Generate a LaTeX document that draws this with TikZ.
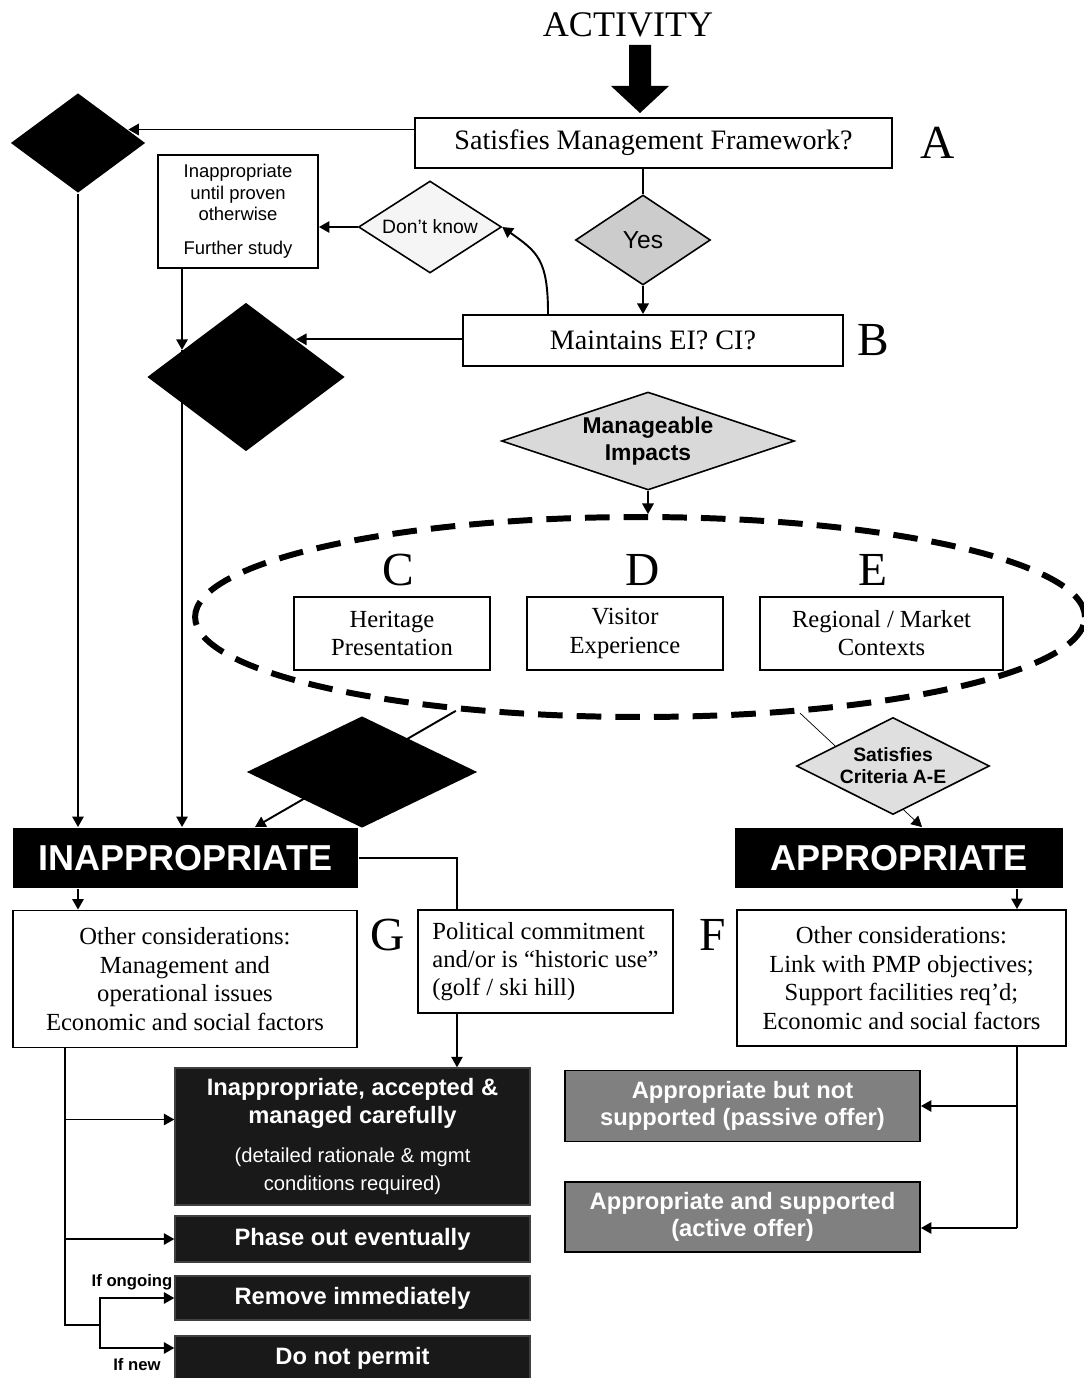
\documentclass[tikz,border=0pt]{standalone}
\usepackage{fontspec}
\setmainfont{Liberation Serif}
\setsansfont{Liberation Sans}
\usepackage{tikz}
\usetikzlibrary{shapes,arrows.meta,positioning,calc,backgrounds}
\newcommand{\detailfont}{\mdseries\fontsize{11.5pt}{13.6pt}\selectfont}

\begin{document}
\begin{tikzpicture}[
  x=0.02cm, y=-0.02cm,
  line width=1.1pt,
  ptr/.style={-{Triangle[length=6pt,width=6.5pt]}},
  qbox/.style={draw, rectangle, fill=white, align=center, inner sep=0pt, font=\fontsize{16pt}{19pt}\selectfont},
  crit/.style={draw, rectangle, align=center, inner sep=0pt, minimum width=3.92cm, minimum height=1.46cm, font=\fontsize{14pt}{16pt}\selectfont},
  letter/.style={font=\fontsize{27pt}{30pt}\selectfont},
  choice/.style={draw, diamond, inner sep=0pt, line width=0.9pt, align=center, font=\sffamily\fontsize{11pt}{12.5pt}\selectfont},
  blackdia/.style={diamond, fill=black, inner sep=0pt},
  verdict/.style={rectangle, fill=black, text=white, inner sep=0pt, minimum height=1.2cm, font=\sffamily\bfseries\fontsize{20.5pt}{24pt}\selectfont},
  note/.style={draw, rectangle, fill=white, align=center, inner sep=0pt, minimum height=2.74cm, font=\fontsize{14pt}{16.4pt}\selectfont},
  action/.style={draw=black!75, line width=0.8pt, rectangle, fill=black!90, text=white, align=center, inner sep=0pt, minimum width=7.1cm, font=\sffamily\bfseries\fontsize{13.5pt}{16pt}\selectfont},
  offer/.style={draw, rectangle, fill=black!50, text=white, align=center, inner sep=0pt, minimum width=7.1cm, minimum height=1.42cm, font=\sffamily\bfseries\fontsize{13.5pt}{15.3pt}\selectfont},
  branch/.style={font=\sffamily\bfseries\fontsize{9.5pt}{11pt}\selectfont}
]
\useasboundingbox (0,0) rectangle (1083,1378);
\node[font=\fontsize{20.5pt}{24pt}\selectfont] (act) at (628,25) {ACTIVITY};
\fill (629,45) -- (651,45) -- (651,86) -- (669,86) -- (640,113) -- (611,86) -- (629,86) -- cycle;
\node[qbox, minimum width=9.54cm, minimum height=1cm] (frame) at (653.5,143) {Satisfies Management Framework?};
\node[letter] (la) at (938,143) {A};
\node[choice, fill=gray!40, aspect=1.5, minimum width=2.7cm, minimum height=1.8cm, font=\sffamily\fontsize{14pt}{16pt}\selectfont] (yes) at (643,240) {Yes};
\node[qbox, minimum width=7.6cm, minimum height=1.02cm] (eici) at (653,340.5) {Maintains EI? CI?};
\node[letter] (lb) at (873,340) {B};
\node[choice, fill=gray!8, aspect=1.55, minimum width=2.86cm, minimum height=1.84cm] (unsure) at (430,227) {Don't know};
\node[draw, rectangle, align=center, minimum width=3.2cm, minimum height=2.26cm, inner sep=0pt, font=\sffamily\fontsize{10.5pt}{12.2pt}\selectfont] (study) at (238,211.5) {Inappropriate\\until proven\\otherwise\\[7pt]Further study};
\node[blackdia, minimum width=2.7cm, minimum height=2cm] (no1) at (78,143) {};
\node[blackdia, minimum width=3.96cm, minimum height=2.98cm] (no2) at (246,377) {};
\node[choice, fill=gray!30, aspect=3, minimum width=5.86cm, minimum height=1.96cm, font=\sffamily\bfseries\fontsize{13pt}{15pt}\selectfont] (manage) at (648,441) {Manageable\\Impacts};
\node[ellipse, draw, dash pattern=on 14pt off 8pt, line width=3.4pt, minimum width=17.8cm, minimum height=4cm] (ring) at (640,617) {};
\node[letter] (lc) at (398,570) {C};
\node[letter] (ld) at (643,570) {D};
\node[letter] (le) at (873,570) {E};
\node[crit] (herit) at (392,633.5) {Heritage\\Presentation};
\node[crit] (visit) at (625,633.5) {Visitor\\Experience};
\node[crit, minimum width=4.86cm] (region) at (881.5,633.5) {Regional / Market\\Contexts};
\node[blackdia, minimum width=4.62cm, minimum height=2.24cm] (no3) at (362,772) {};
\node[choice, fill=gray!25, aspect=2, minimum width=3.86cm, minimum height=1.94cm, font=\sffamily\bfseries\fontsize{11pt}{12.5pt}\selectfont] (meets) at (893,766) {Satisfies\\Criteria A-E};
\node[verdict, minimum width=6.9cm] (inap) at (185.5,858) {INAPPROPRIATE};
\node[verdict, minimum width=6.56cm] (approp) at (899,858) {APPROPRIATE};
\node[note, minimum width=6.88cm] (otherL) at (185,979) {Other considerations:\\Management and\\operational issues\\Economic and social factors};
\node[draw, rectangle, fill=white, align=left, inner sep=0pt, minimum width=5.1cm, minimum height=2.06cm, font=\fontsize{14pt}{16pt}\selectfont] (polit) at (545.5,961.5) {Political commitment\\and/or is “historic use”\\(golf / ski hill)};
\node[letter] (lg) at (388,935) {G};
\node[letter] (lf) at (713,935) {F};
\node[note, minimum width=6.58cm, minimum height=2.72cm] (otherR) at (901.5,978) {Other considerations:\\Link with PMP objectives;\\Support facilities req’d;\\Economic and social factors};
\node[action, minimum height=2.74cm] (accept) at (352.5,1136.5) {Inappropriate, accepted \&\\managed carefully\\[6pt]{\detailfont (detailed rationale \& mgmt}\\{\detailfont conditions required)}};
\node[action, minimum height=0.92cm] (phase) at (352.5,1239) {Phase out eventually};
\node[action, minimum height=0.88cm] (remove) at (352.5,1298) {Remove immediately};
\node[action, minimum height=0.88cm] (nope) at (352.5,1358) {Do not permit};
\node[offer] (passive) at (742.5,1106) {Appropriate but not\\supported (passive offer)};
\node[offer, minimum height=1.4cm] (active) at (742.5,1217) {Appropriate and supported\\(active offer)};
\node[branch] (ongo) at (132,1282) {If ongoing};
\node[branch] (fresh) at (137,1365) {If new};
\coordinate (tk) at (65,1325);
\coordinate (fk) at (100,1325);
\coordinate (rk) at (1017,1228);
\coordinate (accIn) at ([yshift=0.34cm]accept.west);
\coordinate (nopeIn) at ([yshift=0.2cm]nope.west);
\draw (frame.south -| yes.north) -- (yes.north);
\draw[ptr] (yes.south) -- (eici.north -| yes.south);
\draw[ptr] (frame.west |- no1.15) -- (no1.15);
\draw[ptr] (no1.south) -- (inap.north -| no1.south);
\draw[ptr] (unsure.west) -- (study.east |- unsure.west);
\draw[ptr] ([xshift=-2.1cm]eici.north) .. controls +(0,-55) and +(35,25) .. (unsure.east);
\draw[ptr] (study.south -| no2.157) -- (no2.157);
\draw[ptr] (no2.157) -- (inap.north -| no2.157);
\draw[ptr] (eici.west |- no2.37) -- (no2.37);
\draw[ptr] (manage.south) -- (ring.north -| manage.south);
\draw[ptr] (ring.207) -- ([xshift=1.39cm]inap.north);
\begin{scope}[on background layer]
\draw[ptr] (ring.329) -- ([xshift=0.46cm]approp.north);
\draw[ptr, line width=0.8pt] (inap.east) -| ([xshift=2.09cm]accept.north);
\end{scope}
\draw[ptr] (inap.south -| no1.south) -- (otherL.north -| no1.south);
\draw[ptr] (approp.south -| rk) -- (otherR.north -| rk);
\draw (otherL.south -| tk) -- (tk) -- (fk);
\draw[ptr] (tk |- accIn) -- (accIn);
\draw[ptr] (tk |- phase.west) -- (phase.west);
\draw[ptr] (fk) |- (remove.west);
\draw[ptr] (fk) |- (nopeIn);
\draw (otherR.south -| rk) -- (rk);
\draw[ptr] (rk |- passive.east) -- (passive.east);
\draw[ptr] (rk) -- (rk -| active.east);
\end{tikzpicture}
\end{document}
